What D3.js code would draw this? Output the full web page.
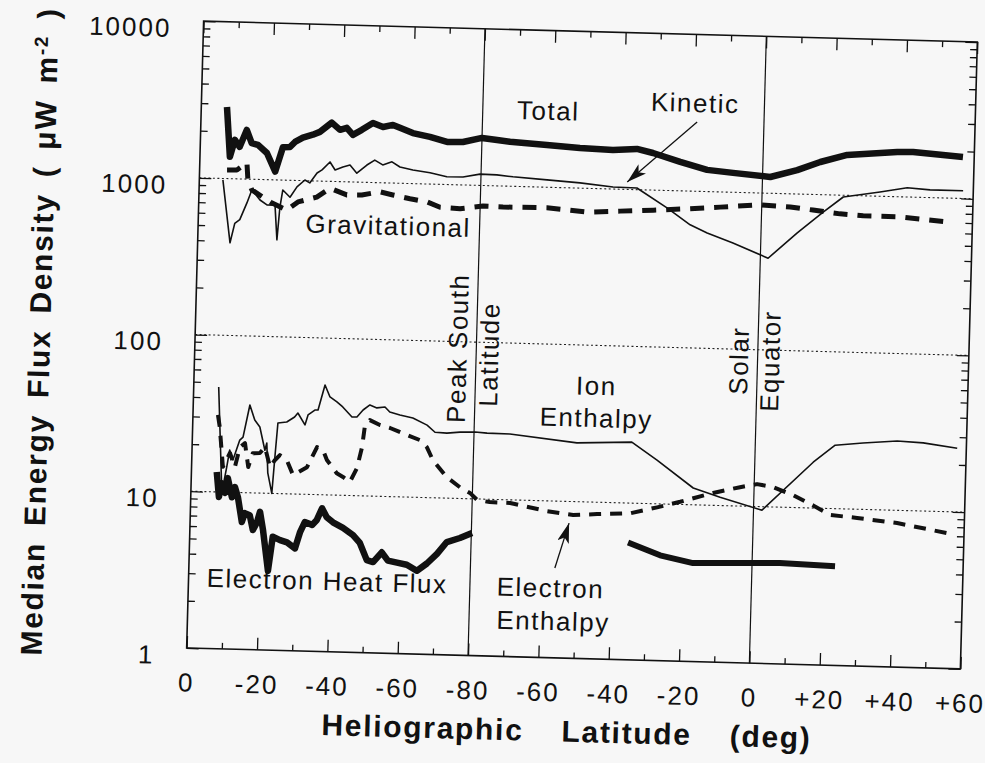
<!DOCTYPE html>
<html>
<head>
<meta charset="utf-8">
<script src="https://cdn.jsdelivr.net/npm/d3@7"></script>
<style>
  body { margin: 0; background: #f7f7f7; }
  svg { display: block; font-family: "Liberation Sans", Arial, sans-serif; }
</style>
</head>
<body>
<div id="chart"></div>
<script>
// x = degrees travelled along the latitude track: 0 -> -80 (peak south) -> +60
const xTickPos = [0, 20, 40, 60, 80, 100, 120, 140, 160, 180, 200, 220];
const xTickLabels = ["0", "-20", "-40", "-60", "-80", "-60", "-40", "-20", "0", "+20", "+40", "+60"];
const xMinorPos = [10, 30, 50, 70, 90, 110, 130, 150, 170, 190, 210];
const yTicks = [1, 10, 100, 1000, 10000];
const gridValues = [10, 100, 1000];
const markerLines = [80, 160]; // peak south latitude, solar equator

// [track position, median flux uW m^-2]
const total = [[7.3,2860],[8.5,1380],[9.8,1770],[11.2,1600],[13.1,2060],[14.6,1700],[16.4,1660],[19,1480],[21.5,1130],[23.5,1620],[25.5,1630],[26.9,1760],[29.1,1880],[31.9,1970],[33.9,2060],[37.2,2370],[39.6,2140],[41.5,2210],[43.3,2000],[45.8,2160],[48.9,2400],[51.8,2270],[54.6,2350],[56.6,2260],[60.3,2100],[65.2,2000],[70.1,1870],[74.6,1880],[80,2010],[84.3,1960],[88,1920],[98.5,1860],[107.9,1800],[117.3,1775],[124.1,1820],[128.7,1725],[136.5,1530],[144.2,1375],[151.6,1330],[162.2,1270],[169.8,1420],[176.3,1615],[183.9,1810],[198.1,1930],[202.6,1940],[216.8,1840]];
const kinetic = [[6.7,980],[9.2,390],[10.4,520],[11.8,550],[13.7,705],[15,855],[17.4,740],[19.4,690],[21.7,690],[22.5,415],[23.1,670],[23.8,865],[25.9,780],[27.8,910],[30,1010],[31.4,970],[33.4,1125],[34.8,1180],[37,1330],[38.5,1185],[40.7,1240],[42.7,1280],[44.7,1140],[47.5,1290],[49.7,1390],[52,1300],[54.6,1365],[56.9,1270],[60.6,1220],[65.5,1180],[70.3,1120],[74.9,1125],[79.7,1180],[84.5,1175],[89.1,1150],[98.8,1115],[108.2,1080],[117.6,1030],[124.4,1025],[133.1,775],[139.8,610],[144.7,545],[152.1,475],[162.2,385],[170.3,565],[177.5,775],[183.1,975],[193.5,1065],[201.2,1145],[207.7,1120],[217.1,1120]];
const gravitational = [[7.8,1135],[10.6,1140],[13.4,1270],[13.8,990],[15,855],[20.4,720],[23.1,675],[25.1,645],[28.2,730],[33.5,790],[37.2,905],[42,825],[46.3,830],[51.4,875],[55.1,840],[60,800],[64.8,770],[68.6,715],[74.3,705],[80.8,740],[86.5,735],[99,740],[110.4,705],[119.8,725],[129.2,745],[138.8,770],[148.2,800],[159.5,840],[168.1,825],[174.6,795],[182.3,760],[188.9,745],[199.4,745],[212.8,705]];
const ionEnthalpy = [[7.1,46.7],[8.8,9.9],[10,14.5],[10.7,18.6],[11.7,16.1],[13.5,21.6],[14.4,22.6],[16.1,36.3],[17.6,29.2],[19.1,26.4],[20.7,18.8],[21.2,20.9],[21.7,13.5],[23,10],[23.6,17.1],[24.2,28.2],[26.7,28.7],[28.9,31],[29.8,32.9],[31.9,27.7],[32.7,32.1],[34.6,34.6],[35.5,34.7],[37.3,50.2],[38.8,42.2],[40.8,39.3],[42.5,36.6],[45.2,31.7],[46.6,31.8],[48.3,35.3],[50.2,38.1],[52.2,36.6],[54.5,37.2],[55.9,34.6],[58.8,33.3],[62.5,32],[66.6,29],[68.9,26.2],[72.3,26],[76,26.5],[80.3,26.7],[83.7,26.4],[90.2,26.3],[109.3,23.7],[124.9,24.5],[132.2,19],[142.7,12.8],[150.4,11.3],[162.4,9.5],[176.6,19.6],[182.7,25.4],[190.6,26.5],[200.3,27.7],[207.7,27.2],[217.4,25.5]];
const electronEnthalpy = [[7.1,31],[7.7,26],[8.9,14.5],[10.8,17.8],[12.3,14.5],[13.6,19.5],[15,20.7],[16.1,14.6],[17.3,17.9],[19.3,18],[20.7,19.7],[22.3,14.7],[23.6,16.3],[25,17.6],[27,16.4],[28.9,13.2],[32.8,14.9],[35.5,20.1],[37.2,19.3],[38.4,16.7],[41.3,13.8],[43.1,13.1],[45.1,12.2],[47,15],[48.3,20.5],[48.9,27.5],[50.3,30.5],[53.2,28.5],[56.1,27.4],[60.9,24.9],[64.7,23.2],[66.7,21],[68.5,17.4],[72.6,13.6],[76.4,11.8],[79.3,10.9],[81.4,9.85],[85,9.6],[90.8,9.55],[101.3,8.6],[108.8,8.2],[115.6,8.4],[124.9,8.6],[132.6,9.5],[139.1,10.4],[148.4,12],[156,13.2],[160.8,13.9],[165.4,13.4],[171.1,12],[176.9,10.4],[181.8,9.1],[189.5,8.8],[200.9,8.3],[215.2,7.3]];
const heatFluxSouth = [[7.2,13.4],[8,9.3],[8.7,11.4],[9.7,9.9],[10.4,12.3],[11.7,9.3],[12.5,10.8],[13.4,9.35],[14.7,6.5],[15.5,7.4],[16.9,7.2],[17.9,5.8],[19,6.5],[19.8,7.6],[20.8,5.8],[22.5,3.2],[23.6,5.3],[25.7,5.05],[27.7,4.9],[30,4.5],[31.3,5.7],[32.6,6.65],[34.7,6.4],[36,6.9],[37.4,8.2],[38.8,7.2],[40.6,6.7],[43.5,6.2],[46.4,5.6],[48.4,5],[50.5,3.9],[52.3,3.8],[54.7,4.4],[56.5,3.9],[59.1,3.8],[61.9,3.7],[64.8,3.4],[67.6,3.8],[70.4,4.4],[73.1,5.25],[76.8,5.6],[80.2,6.05]];
const heatFluxNorth = [[124.6,5.6],[133.8,4.7],[143.2,4.25],[158.6,4.35],[167.9,4.4],[183.6,4.3]];

// labels placed in data coordinates
const textLabels = [
  {t: "Total", p: 98.6, v: 2690},
  {t: "Kinetic", p: 140.3, v: 3200},
  {t: "Gravitational", p: 54, v: 467},
  {t: "Ion", p: 114.4, v: 48.3},
  {t: "Enthalpy", p: 114.6, v: 30.1},
  {t: "Electron Heat Flux", p: 39.4, v: 2.47},
  {t: "Electron", p: 102.9, v: 2.44},
  {t: "Enthalpy", p: 103.9, v: 1.5}
];
const verticalLabels = [
  {t: "Peak South", p: 77.3, v: 30.3},
  {t: "Latitude", p: 86.3, v: 38.9},
  {t: "Solar", p: 157.3, v: 51.3},
  {t: "Equator", p: 166.2, v: 40.4}
];
const arrows = [
  {from: [141, 2770], to: [121.6, 1116]},
  {from: [104, 3.74], to: [107.7, 7.28]}
];

const W = 985, H = 763;
const margin = {top: 31.5, right: 16, bottom: 104.5, left: 195},
    width = W - margin.left - margin.right,
    height = H - margin.top - margin.bottom;

const root = d3.select("#chart")
  .append("svg")
  .attr("width", W)
  .attr("height", H)
  .attr("style", "background-color: #f7f7f7");

// the scanned figure sits slightly tilted
const page = root.append("g")
  .attr("transform", "rotate(1.55, 582, 345)");

const svg = page.append("g")
  .attr("transform", `translate(${margin.left}, ${margin.top})`);

const x = d3.scaleLinear().domain([0, 220]).range([0, width]);
const y = d3.scaleLog().domain([1, 10000]).range([height, 0]);

const minorY = [];
for (let d = 1; d < 10000; d *= 10) {
  for (let k = 2; k <= 9; k++) minorY.push(d * k);
}

// dotted decade lines
svg.append("g")
  .selectAll("line")
  .data(gridValues)
  .join("line")
  .attr("x1", 0).attr("x2", width)
  .attr("y1", d => y(d)).attr("y2", d => y(d))
  .attr("stroke", "#222")
  .attr("stroke-width", 1.1)
  .attr("stroke-dasharray", "2,2.5");

// peak south / solar equator lines
svg.append("g")
  .selectAll("line")
  .data(markerLines)
  .join("line")
  .attr("x1", d => x(d)).attr("x2", d => x(d))
  .attr("y1", 0).attr("y2", height)
  .attr("stroke", "#111")
  .attr("stroke-width", 1.2);

function styleAxis(g) {
  g.select(".domain").remove();
  g.selectAll(".tick line").attr("stroke", "#111").attr("stroke-width", 1.3);
  g.selectAll("text")
    .attr("fill", "#111")
    .style("font-size", "26px")
    .style("letter-spacing", "2px");
}

// left
svg.append("g")
  .call(d3.axisLeft(y).tickValues(yTicks).tickSize(-12).tickPadding(32)
    .tickFormat(d3.format("d")))
  .call(styleAxis)
  .call(g => g.selectAll("text").attr("dy", "0.62em"));
svg.append("g")
  .call(d3.axisLeft(y).tickValues(minorY).tickSize(-7).tickFormat(""))
  .call(styleAxis);
// right
svg.append("g")
  .attr("transform", `translate(${width}, 0)`)
  .call(d3.axisRight(y).tickValues(yTicks).tickSize(-12).tickFormat(""))
  .call(styleAxis);
svg.append("g")
  .attr("transform", `translate(${width}, 0)`)
  .call(d3.axisRight(y).tickValues(minorY).tickSize(-7).tickFormat(""))
  .call(styleAxis);
// bottom
svg.append("g")
  .attr("transform", `translate(0, ${height})`)
  .call(d3.axisBottom(x).tickValues(xTickPos).tickSize(-12).tickPadding(25)
    .tickFormat((d, i) => xTickLabels[i]))
  .call(styleAxis);
svg.append("g")
  .attr("transform", `translate(0, ${height})`)
  .call(d3.axisBottom(x).tickValues(xMinorPos).tickSize(-6).tickFormat(""))
  .call(styleAxis);
// top
svg.append("g")
  .call(d3.axisTop(x).tickValues(xTickPos).tickSize(-12).tickFormat(""))
  .call(styleAxis);
svg.append("g")
  .call(d3.axisTop(x).tickValues(xMinorPos).tickSize(-6).tickFormat(""))
  .call(styleAxis);

// frame
svg.append("rect")
  .attr("width", width).attr("height", height)
  .attr("fill", "none")
  .attr("stroke", "#111")
  .attr("stroke-width", 1.6);

const line = d3.line()
  .x(d => x(d[0]))
  .y(d => y(d[1]));

const series = [
  {data: total, w: 6.5, dash: null},
  {data: kinetic, w: 1.6, dash: null},
  {data: gravitational, w: 5, dash: "14,10"},
  {data: ionEnthalpy, w: 1.6, dash: null},
  {data: electronEnthalpy, w: 4, dash: "12,9"},
  {data: heatFluxSouth, w: 6.5, dash: null},
  {data: heatFluxNorth, w: 6, dash: null}
];

svg.append("g")
  .selectAll("path")
  .data(series)
  .join("path")
  .attr("d", d => line(d.data))
  .attr("fill", "none")
  .attr("stroke", "#111")
  .attr("stroke-width", d => d.w)
  .attr("stroke-linejoin", "round")
  .attr("stroke-dasharray", d => d.dash);

// arrows
root.append("defs").append("marker")
  .attr("id", "head")
  .attr("markerUnits", "userSpaceOnUse")
  .attr("viewBox", "0 0 20 12")
  .attr("markerWidth", 20).attr("markerHeight", 12)
  .attr("refX", 20).attr("refY", 6)
  .attr("orient", "auto")
  .append("path")
  .attr("d", "M0,0 L20,6 L0,12 L5,6 Z")
  .attr("fill", "#111");

svg.append("g")
  .selectAll("line")
  .data(arrows)
  .join("line")
  .attr("x1", d => x(d.from[0])).attr("y1", d => y(d.from[1]))
  .attr("x2", d => x(d.to[0])).attr("y2", d => y(d.to[1]))
  .attr("stroke", "#111")
  .attr("stroke-width", 1.3)
  .attr("marker-end", "url(#head)");

// curve names
svg.append("g")
  .selectAll("text")
  .data(textLabels)
  .join("text")
  .attr("x", d => x(d.p))
  .attr("y", d => y(d.v))
  .attr("text-anchor", "middle")
  .attr("fill", "#111")
  .style("font-size", "26px")
  .style("letter-spacing", "1.5px")
  .text(d => d.t);

svg.append("g")
  .selectAll("text")
  .data(verticalLabels)
  .join("text")
  .attr("transform", d => `translate(${x(d.p)}, ${y(d.v)}) rotate(-90)`)
  .attr("text-anchor", "start")
  .attr("fill", "#111")
  .style("font-size", "26px")
  .style("letter-spacing", "1.5px")
  .text(d => d.t);

// axis titles
page.append("text")
  .attr("x", 577)
  .attr("y", 742)
  .attr("text-anchor", "middle")
  .attr("fill", "#111")
  .style("font-size", "30px")
  .style("font-weight", "bold")
  .style("letter-spacing", "1.7px")
  .style("word-spacing", "28px")
  .text("Heliographic Latitude (deg)");

const yTitle = page.append("text")
  .attr("transform", "translate(50, 346) rotate(-90)")
  .attr("text-anchor", "middle")
  .attr("fill", "#111")
  .style("font-size", "30px")
  .style("font-weight", "bold")
  .style("letter-spacing", "1.7px")
  .style("word-spacing", "6px");
yTitle.append("tspan").text("Median Energy Flux Density ( \u03bcW m");
yTitle.append("tspan").attr("baseline-shift", "super").style("font-size", "19px").text("-2");
yTitle.append("tspan").text(" )");
</script>
</body>
</html>
